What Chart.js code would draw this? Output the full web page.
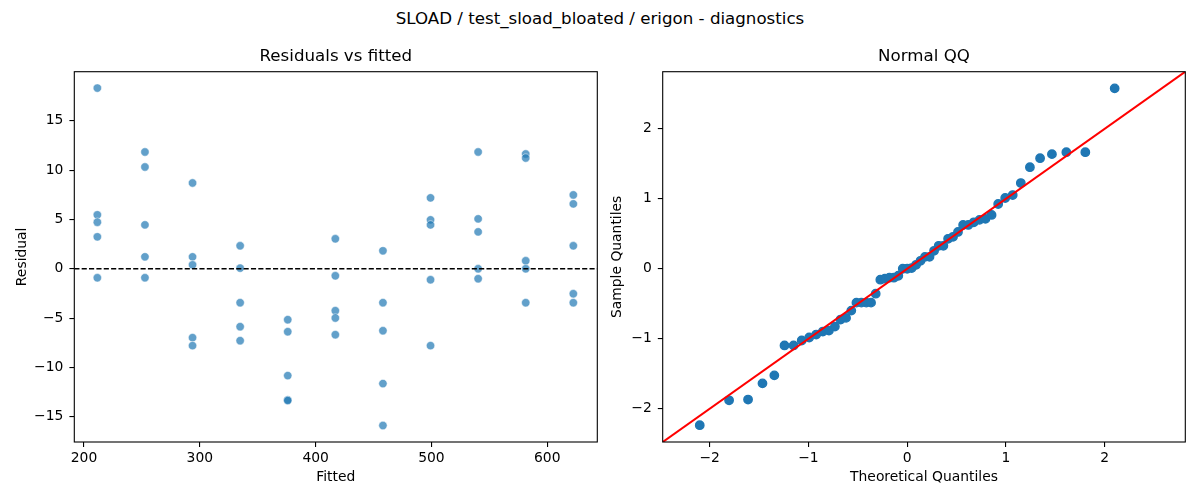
<!DOCTYPE html>
<html>
<head>
<meta charset="utf-8">
<script src="https://cdn.jsdelivr.net/npm/chart.js@4.4.1/dist/chart.umd.min.js"></script>
<style>
  html, body { margin: 0; padding: 0; background: #fff; }
  #wrap { position: relative; width: 1200px; height: 500px; overflow: hidden; font-family: 'DejaVu Sans', sans-serif; }
  canvas { position: absolute; left: 0; top: 0; }
  #suptitle { position: absolute; left: 0; width: 1200px; top: 9.2px; text-align: center; font-size: 16.67px; line-height: 20px; color: #000; }
</style>
</head>
<body>
<div id="wrap">
  <div id="suptitle">SLOAD / test_sload_bloated / erigon - diagnostics</div>
  <canvas id="left" width="1200" height="500"></canvas>
  <canvas id="right" width="1200" height="500"></canvas>
</div>
<script>
// ---- Residuals vs fitted data ----
const fittedX = [
  211.5, 211.5, 211.5, 211.5, 211.5,
  252.6, 252.6, 252.6, 252.6, 252.6,
  293.7, 293.7, 293.7, 293.7, 293.7,
  334.8, 334.8, 334.8, 334.8, 334.8,
  375.9, 375.9, 375.9, 375.9, 375.9,
  417.0, 417.0, 417.0, 417.0, 417.0,
  458.1, 458.1, 458.1, 458.1, 458.1,
  499.2, 499.2, 499.2, 499.2, 499.2,
  540.3, 540.3, 540.3, 540.3, 540.3,
  581.4, 581.4, 581.4, 581.4, 581.4,
  622.5, 622.5, 622.5, 622.5, 622.5
];
const residualY = [
  18.32, 5.47, 4.72, 3.24, -0.91,
  11.84, 10.32, 4.45, 1.21, -0.91,
  8.70, 1.21, 0.40, -6.98, -7.79,
  2.33, 0.07, -3.44, -5.87, -7.29,
  -5.16, -6.38, -10.83, -13.29, -13.36,
  3.04, -0.71, -4.25, -4.99, -6.68,
  1.82, -3.44, -6.28, -11.64, -15.89,
  7.19, 4.96, 4.45, -1.11, -7.79,
  11.84, 5.06, 3.74, 0.00, -1.01,
  11.64, 11.23, 0.81, 0.00, -3.44,
  7.49, 6.58, 2.33, -2.53, -3.44
];
const residXTicks = [200, 300, 400, 500, 600];
const residYTicks = [-15, -10, -5, 0, 5, 10, 15];
const residXLim = [191.6, 643.2];
const residYLim = [-17.56, 19.98];

// ---- Normal QQ data ----
const theoreticalQ = [
  -2.100, -1.803, -1.611, -1.465, -1.345, -1.242, -1.150, -1.068, -0.992, -0.921,
  -0.854, -0.792, -0.732, -0.674, -0.619, -0.566, -0.514, -0.464, -0.414, -0.366,
  -0.319, -0.272, -0.226, -0.180, -0.135, -0.090, -0.045, 0.000, 0.045, 0.090,
  0.135, 0.180, 0.226, 0.272, 0.319, 0.366, 0.414, 0.464, 0.514, 0.566,
  0.619, 0.674, 0.732, 0.792, 0.854, 0.921, 0.992, 1.068, 1.150, 1.242,
  1.345, 1.465, 1.611, 1.803, 2.100
];
const sampleQ = [
  -2.235, -1.879, -1.869, -1.637, -1.523, -1.096, -1.096, -1.025, -0.982, -0.940,
  -0.897, -0.883, -0.826, -0.726, -0.702, -0.598, -0.484, -0.484, -0.484, -0.484,
  -0.356, -0.156, -0.142, -0.128, -0.128, -0.100, 0.000, 0.000, 0.010, 0.056,
  0.114, 0.170, 0.170, 0.256, 0.328, 0.328, 0.428, 0.456, 0.526, 0.626,
  0.626, 0.664, 0.698, 0.712, 0.769, 0.925, 1.011, 1.053, 1.224, 1.451,
  1.579, 1.637, 1.665, 1.665, 2.577
];
const qqTicks = [-2, -1, 0, 1, 2];
const qqLim = [-2.475, 2.815];

const FONT = "'DejaVu Sans', sans-serif";
const fmt = v => (v < 0 ? '\u2212' + Math.abs(v) : String(v));

const framePlugin = {
  id: 'frame',
  afterDraw(chart) {
    const a = chart.chartArea, ctx = chart.ctx;
    ctx.save();
    ctx.strokeStyle = '#000';
    ctx.lineWidth = 1.1;
    ctx.strokeRect(a.left, a.top, a.right - a.left, a.bottom - a.top);
    ctx.restore();
  }
};

function axis(lim, ticks, titleText, titlePad, fixedSize, horizontal) {
  return {
    type: 'linear',
    min: lim[0], max: lim[1],
    afterBuildTicks: s => { s.ticks = ticks.map(v => ({ value: v })); },
    afterFit: s => { if (horizontal) s.height = fixedSize; else s.width = fixedSize; },
    border: { display: false },
    grid: { display: true, drawOnChartArea: false, drawTicks: true, tickLength: 4.9, color: '#000', lineWidth: 1.1 },
    ticks: {
      color: '#000', font: { family: FONT, size: 13.89 },
      padding: horizontal ? 3.5 : 6,
      maxRotation: 0, autoSkip: false,
      callback: v => fmt(v)
    },
    title: { display: true, text: titleText, color: '#000', font: { family: FONT, size: 13.89 }, padding: titlePad }
  };
}

function titleOpts(text) {
  return {
    display: true, text: text, fullSize: false, color: '#000',
    font: { family: FONT, size: 16.67, weight: 'normal' },
    padding: { top: 46.2, bottom: 5.5 }
  };
}

new Chart(document.getElementById('left'), {
  type: 'scatter',
  data: {
    datasets: [
      {
        label: 'residuals',
        data: fittedX.map((x, i) => ({ x: x, y: residualY[i] })),
        backgroundColor: 'rgba(31,119,180,0.7)',
        borderColor: 'rgba(255,255,255,0.7)',
        borderWidth: 0.7,
        pointRadius: 4.2,
        order: 1
      },
      {
        type: 'line',
        label: 'zero',
        data: [{ x: residXLim[0], y: 0 }, { x: residXLim[1], y: 0 }],
        borderColor: '#000',
        borderWidth: 1.39,
        borderDash: [5.14, 2.22],
        pointRadius: 0,
        fill: false,
        order: 0
      }
    ]
  },
  options: {
    responsive: false, animation: false, devicePixelRatio: 1,
    layout: { padding: { left: 0, right: 1200 - 597.3, top: 0, bottom: 0 } },
    plugins: { legend: { display: false }, tooltip: { enabled: false }, title: titleOpts('Residuals vs fitted') },
    scales: {
      x: Object.assign(axis(residXLim, residXTicks, 'Fitted', { bottom: 13.8, top: 0 }, 58, true), { position: 'bottom' }),
      y: Object.assign(axis(residYLim, residYTicks, 'Residual', { top: 13.6, bottom: 0 }, 74.3, false), { position: 'left' })
    }
  },
  plugins: [framePlugin]
});

new Chart(document.getElementById('right'), {
  type: 'scatter',
  data: {
    datasets: [
      {
        label: 'qq',
        data: theoreticalQ.map((x, i) => ({ x: x, y: sampleQ[i] })),
        backgroundColor: '#1f77b4',
        borderColor: '#1f77b4',
        borderWidth: 1.39,
        pointRadius: 4.2,
        order: 1
      },
      {
        type: 'line',
        label: '45',
        data: [{ x: qqLim[0], y: qqLim[0] }, { x: qqLim[1], y: qqLim[1] }],
        borderColor: '#ff0000',
        borderWidth: 2.08,
        pointRadius: 0,
        fill: false,
        order: 0
      }
    ]
  },
  options: {
    responsive: false, animation: false, devicePixelRatio: 1,
    layout: { padding: { left: 600, right: 1200 - 1185.3, top: 0, bottom: 0 } },
    plugins: { legend: { display: false }, tooltip: { enabled: false }, title: titleOpts('Normal QQ') },
    scales: {
      x: Object.assign(axis(qqLim, qqTicks, 'Theoretical Quantiles', { bottom: 13.8, top: 0 }, 58, true), { position: 'bottom' }),
      y: Object.assign(axis(qqLim, qqTicks, 'Sample Quantiles', { top: 8.7, bottom: 0 }, 62.7, false), { position: 'left' })
    }
  },
  plugins: [framePlugin]
});
</script>
</body>
</html>
